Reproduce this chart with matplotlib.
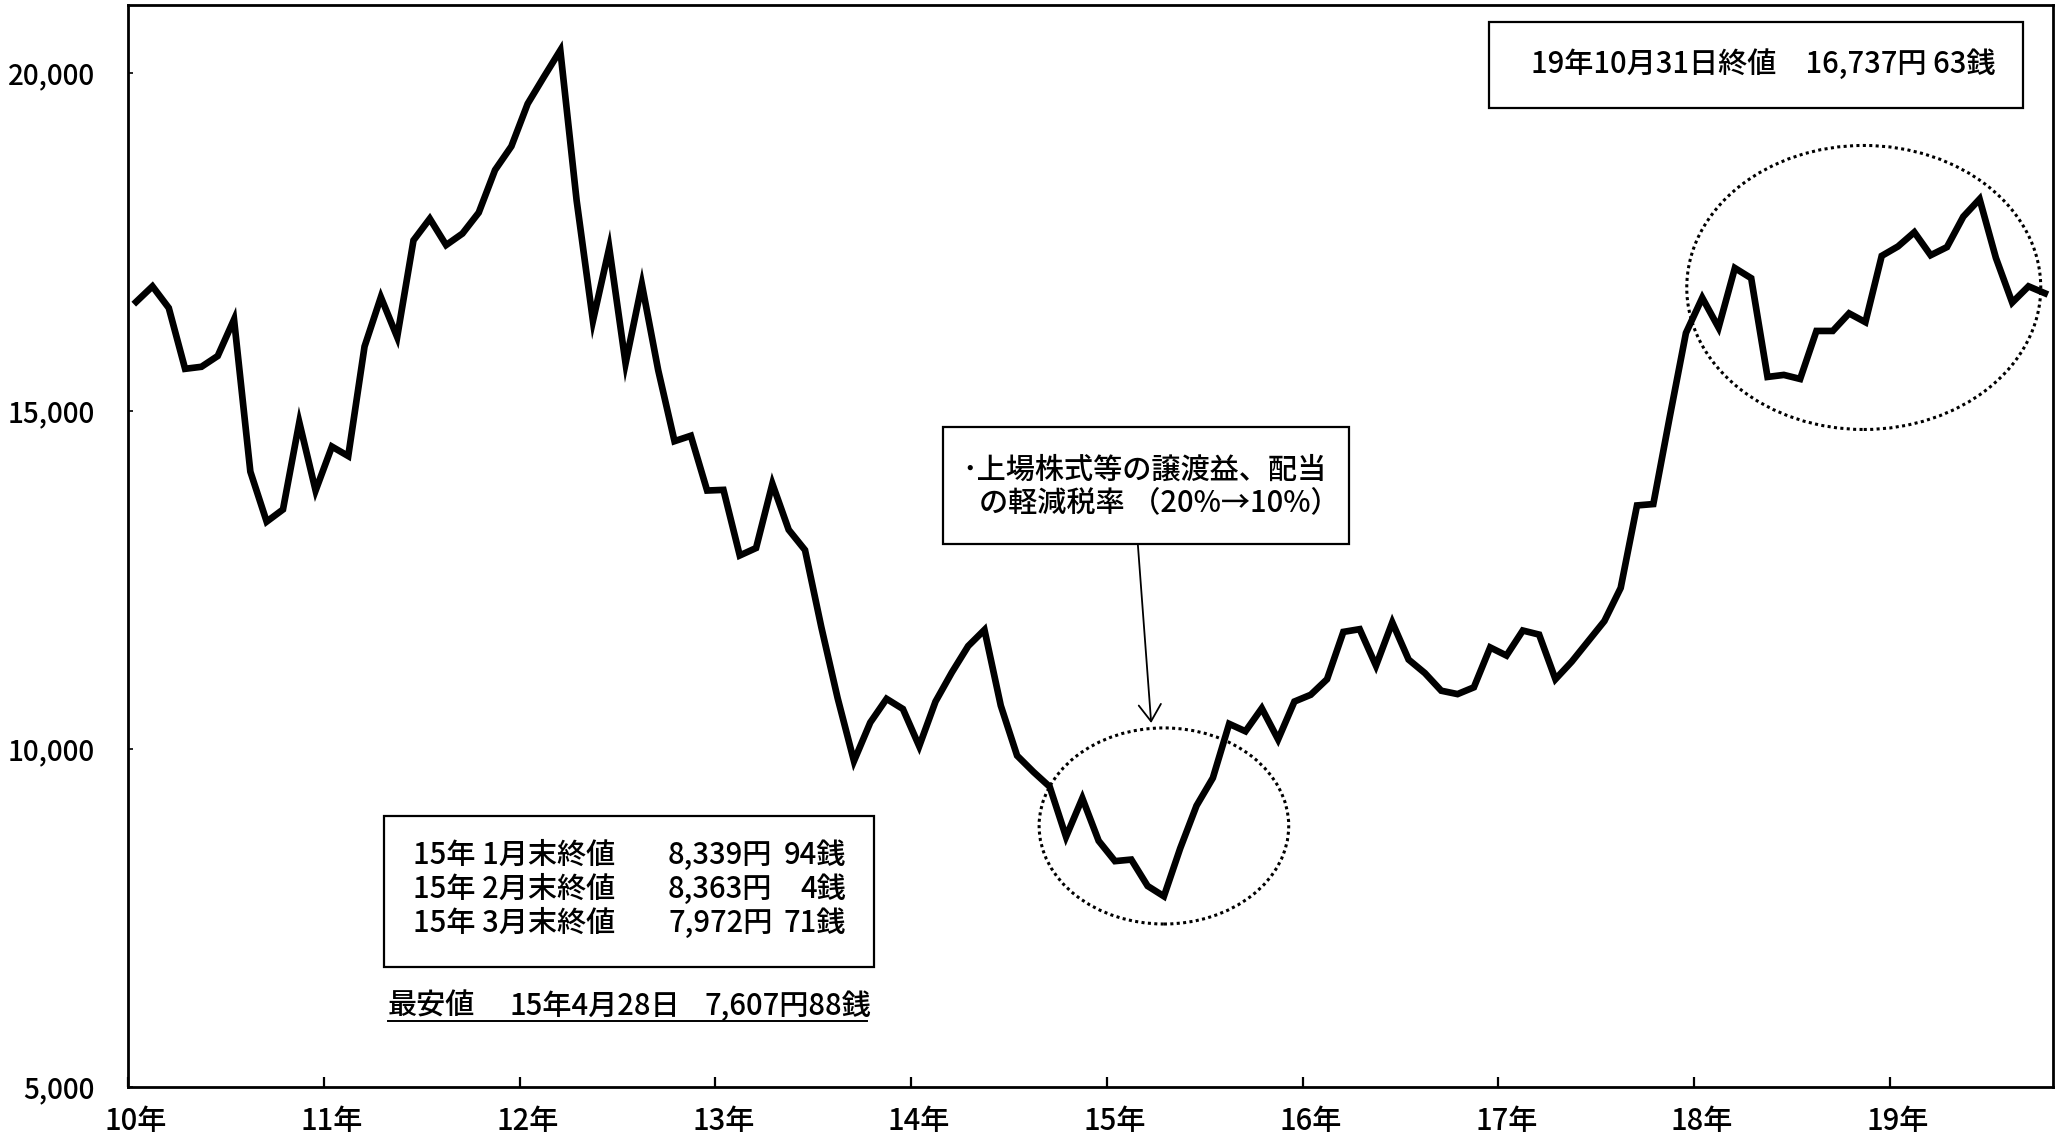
import numpy as np
import matplotlib
matplotlib.use('Agg')
import matplotlib.pyplot as plt
from matplotlib.patches import Ellipse, Rectangle
from matplotlib.transforms import ScaledTranslation

plt.rcParams['font.family'] = ['Noto Sans CJK JP', 'DejaVu Sans']
plt.rcParams['font.weight'] = 'medium'

# 月末終値（2010年1月〜2019年10月）
close_2010 = [16610, 16840, 16520, 15620, 15650, 15810, 16350, 14100, 13360, 13540, 14830, 13820]
close_2011 = [14470, 14330, 15950, 16680, 16090, 17520, 17840, 17450, 17620, 17930, 18560, 18910]
close_2012 = [19540, 19940, 20330, 18110, 16330, 17410, 15700, 16870, 15600, 14550, 14630, 13820]
close_2013 = [13830, 12860, 12970, 13920, 13240, 12940, 11800, 10750, 9820, 10390, 10740, 10590]
close_2014 = [10040, 10700, 11130, 11520, 11760, 10640, 9900, 9660, 9440, 8700, 9270, 8640]
close_2015 = [8339.94, 8363.04, 7972.71, 7820, 8530, 9160, 9570, 10370, 10260, 10600, 10140, 10700]
close_2016 = [10800, 11030, 11730, 11770, 11230, 11870, 11320, 11120, 10860, 10810, 10910, 11500]
close_2017 = [11380, 11750, 11690, 11030, 11290, 11590, 11890, 12380, 13600, 13620, 14900, 16150]
close_2018 = [16670, 16230, 17110, 16960, 15500, 15530, 15470, 16180, 16180, 16440, 16310, 17290]
close_2019 = [17430, 17640, 17300, 17420, 17870, 18130, 17260, 16600, 16840, 16737.63]

close = (close_2010 + close_2011 + close_2012 + close_2013 + close_2014
         + close_2015 + close_2016 + close_2017 + close_2018 + close_2019)
months = np.arange(len(close)) + 0.5

low_price = 7607.88  # 15年4月28日 最安値

year_ticks = np.arange(0, 120, 12)
year_labels = ['%d年' % y for y in range(10, 20)]
price_ticks = [5000, 10000, 15000, 20000]
price_labels = ['5,000', '10,000', '15,000', '20,000']


def yen(v):
    return '{:,}円'.format(int(v))


def sen(v):
    return '%d銭' % round((v - int(v)) * 100)


W, H = 2057, 1145
FS = 21


def fpos(px, py):
    return px / W, 1 - py / H


fig = plt.figure(figsize=(W / 100, H / 100), dpi=100)
ax = fig.add_axes([128 / W, 1 - 1087 / H, (2053 - 128) / W, (1087 - 5) / H])

ax.plot(months, close, color='black', lw=4.8, solid_joinstyle='miter', zorder=3)

ax.set_xlim(0, 118)
ax.set_ylim(5000, 21000)
ax.set_xticks(year_ticks)
ax.set_xticklabels(year_labels, fontsize=21)
ax.set_yticks(price_ticks)
ax.set_yticklabels(price_labels, fontsize=20)
ax.tick_params(axis='x', direction='in', length=7, width=1.6, pad=14)
ax.tick_params(axis='y', direction='in', length=3.5, width=1.2, pad=24)
for lab in ax.get_xticklabels():
    lab.set_transform(lab.get_transform() + ScaledTranslation(0.08, 0, fig.dpi_scale_trans))
for s in ax.spines.values():
    s.set_linewidth(2.0)

# 点線の楕円
ax.add_patch(Ellipse((63.5, 8860), 15.3, 2900, fill=False, ec='black',
                     lw=2.2, ls=(0, (1, 1.1)), zorder=2))
ax.add_patch(Ellipse((106.4, 16823), 21.7, 4200, fill=False, ec='black',
                     lw=2.2, ls=(0, (1, 1.1)), zorder=2))

# 右上の終値
x0, y0 = fpos(1489, 108)
x1, y1 = fpos(2023, 22)
fig.patches.append(Rectangle((x0, y0), x1 - x0, y1 - y0, transform=fig.transFigure,
                             fill=False, ec='black', lw=1.6))
last = close[-1]
fig.text(*fpos(1531, 64), '19年10月31日終値　%s %s' % (yen(last), sen(last)),
         fontsize=FS, va='center', ha='left')

# 税率の注記
x0, y0 = fpos(943, 544)
x1, y1 = fpos(1349, 427)
fig.patches.append(Rectangle((x0, y0), x1 - x0, y1 - y0, transform=fig.transFigure,
                             fill=False, ec='black', lw=1.6))
fig.text(*fpos(962, 470), '･上場株式等の譲渡益、配当', fontsize=FS, va='center', ha='left')
fig.text(*fpos(979, 503), 'の軽減税率 （20%→10%）', fontsize=FS, va='center', ha='left')
ax.annotate('', xy=(62.72, 10383), xytext=(61.9, 13030),
            arrowprops=dict(arrowstyle='->,head_length=0.6,head_width=0.4',
                            mutation_scale=20, lw=1.3, color='black',
                            shrinkA=0, shrinkB=0))

# 15年1〜3月末の終値
x0, y0 = fpos(384, 967)
x1, y1 = fpos(874, 816)
fig.patches.append(Rectangle((x0, y0), x1 - x0, y1 - y0, transform=fig.transFigure,
                             fill=False, ec='black', lw=1.6))
row_y = [855, 889, 923]
for i in range(3):
    v = close_2015[i]
    fig.text(*fpos(413, row_y[i]), '15年 %d月末終値' % (i + 1), fontsize=FS, va='center', ha='left')
    fig.text(*fpos(668, row_y[i]), yen(v), fontsize=FS, va='center', ha='left')
    fig.text(*fpos(846, row_y[i]), sen(v), fontsize=FS, va='center', ha='right')

# 最安値
fig.text(*fpos(388, 1006), '最安値', fontsize=FS, va='center', ha='left')
fig.text(*fpos(509, 1006), '15年4月28日', fontsize=FS, va='center', ha='left')
fig.text(*fpos(704, 1006), yen(low_price) + sen(low_price), fontsize=FS, va='center', ha='left')
ux0, uy = fpos(388, 1021)
ux1, _ = fpos(867, 1021)
fig.add_artist(plt.Line2D([ux0, ux1], [uy, uy], transform=fig.transFigure, color='black', lw=1.4))

fig.savefig('out.png', dpi=100, facecolor='white')
